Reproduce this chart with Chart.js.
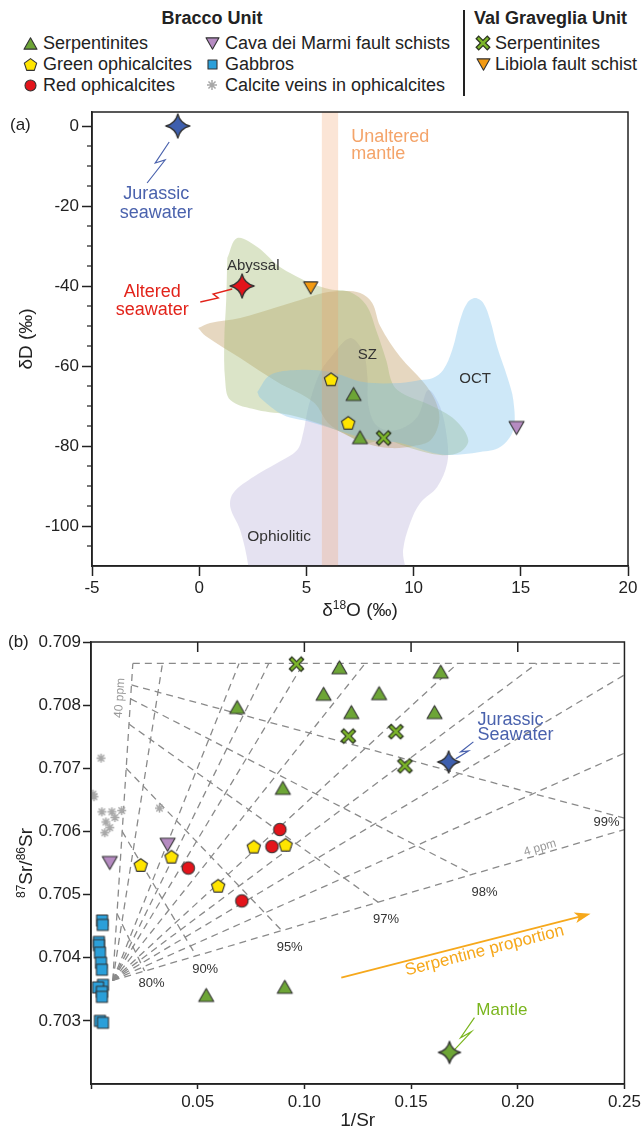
<!DOCTYPE html>
<html>
<head>
<meta charset="utf-8">
<title>Stable and Sr isotopes</title>
<script src="https://cdn.jsdelivr.net/npm/chart.js@4.4.1/dist/chart.umd.min.js"></script>
<style>
  html, body { margin: 0; padding: 0; background: #fff; }
  body { width: 644px; height: 1130px; position: relative; overflow: hidden;
         font-family: 'Liberation Sans', Arial, sans-serif; color: #222; }
  #chartA { position: absolute; left: 0; top: 96px; }
  #chartB { position: absolute; left: 0; top: 626px; }
  .lg { position: absolute; font-size: 18px; line-height: 20px; white-space: nowrap; }
  .hd { font-weight: bold; }
  .ic { position: absolute; }
  #divider { position: absolute; left: 463px; top: 10px; width: 1.5px; height: 86px; background: #222; }
</style>
</head>
<body>
<div id="legend"></div>
<div id="divider"></div>
<canvas id="chartA" width="644" height="530"></canvas>
<canvas id="chartB" width="644" height="504"></canvas>
<script>
const FONT = "'Liberation Sans', Arial, sans-serif";
Chart.defaults.font.family = FONT;
Chart.defaults.color = '#222';

// colours
const C = {
    serp: '#6da536',
    greenOph: '#ffe500',
    redOph: '#e3141b',
    cava: '#b58bc1',
    gabbro: '#2b9fd9',
    calcite: '#a8a8a8',
    vgSerp: '#7cb52a',
    libiola: '#f39a12',
    seawater: '#3e5fae',
    textBlue: '#4a62ad',
    textRed: '#e2231a',
    mantleGreen: '#7ab51d',
    mantleBand: '#f4a46a',
    arrow: '#f6a81c',
    dash: '#8a8a8a'
};

// ---------- panel (a): dD vs d18O ----------
const xTicksA = [-5, 0, 5, 10, 15, 20];
const yTicksA = [0, -20, -40, -60, -80, -100];
const serpA = [{x: 7.2, y: -67}, {x: 7.5, y: -77.8}];
const greenOphA = [{x: 6.15, y: -63.3}, {x: 6.95, y: -74.2}];
const cavaA = [{x: 14.8, y: -75.5}];
const vgSerpA = [{x: 8.6, y: -78}];
const libiolaA = [{x: 5.2, y: -40.5}];
const jurassicSwA = [{x: -1, y: 0}];
const alteredSwA = [{x: 2, y: -40}];

// literature fields (outlines)
const abyssalField = [
    {x: 1.31, y: -33}, {x: 1.77, y: -28}, {x: 2.71, y: -30.25}, {x: 3.64, y: -34.75},
    {x: 4.24, y: -36.75}, {x: 5.18, y: -39.25}, {x: 6.1, y: -40.8}, {x: 7.04, y: -41.5},
    {x: 7.79, y: -44.75}, {x: 8.3, y: -51.75}, {x: 8.72, y: -58.5}, {x: 9.05, y: -64.75},
    {x: 9.61, y: -67.25}, {x: 10.77, y: -69.75}, {x: 11.94, y: -73.5}, {x: 12.55, y: -78.5},
    {x: 12.17, y: -81.5}, {x: 11.24, y: -82.25}, {x: 9.84, y: -80.5}, {x: 8.68, y: -78.5},
    {x: 7.65, y: -79.25}, {x: 6.72, y: -76.75}, {x: 5.5, y: -74.25}, {x: 4.24, y: -72.25},
    {x: 2.71, y: -71}, {x: 1.45, y: -68.5}, {x: 1.21, y: -63.5}, {x: 1.17, y: -53.5},
    {x: 1.26, y: -43.5}, {x: 1.31, y: -33}
];
const szField = [
    {x: -0.05, y: -50.5}, {x: 0.51, y: -49.25}, {x: 1.91, y: -48}, {x: 3.64, y: -45.25},
    {x: 4.71, y: -43.5}, {x: 5.78, y: -41.75}, {x: 6.72, y: -41.25}, {x: 7.51, y: -41.75},
    {x: 8.07, y: -44.25}, {x: 8.44, y: -50}, {x: 9.38, y: -57.75}, {x: 10.45, y: -64},
    {x: 11.0, y: -68.5}, {x: 11.2, y: -73.5}, {x: 10.8, y: -78.5}, {x: 10.0, y: -80},
    {x: 8.9, y: -80.5}, {x: 7.74, y: -79.25}, {x: 6.11, y: -74.75}, {x: 5.32, y: -69},
    {x: 3.64, y: -64}, {x: 1.91, y: -58}, {x: 0.3, y: -52.5}, {x: -0.05, y: -50.5}
];
const octField = [
    {x: 2.71, y: -66.5}, {x: 3.31, y: -62.25}, {x: 4.57, y: -61}, {x: 6.11, y: -61.5},
    {x: 7.65, y: -64}, {x: 9.38, y: -64.25}, {x: 10.31, y: -63.5}, {x: 10.9, y: -63},
    {x: 11.38, y: -61}, {x: 11.8, y: -56}, {x: 12.17, y: -48.5}, {x: 12.5, y: -44.25},
    {x: 12.87, y: -43}, {x: 13.25, y: -44.25}, {x: 13.57, y: -48.5}, {x: 13.9, y: -55.25},
    {x: 14.37, y: -62.75}, {x: 14.65, y: -68.5}, {x: 14.65, y: -76}, {x: 14.04, y: -80.25},
    {x: 13.1, y: -81.5}, {x: 11.7, y: -82.25}, {x: 10.91, y: -81.75}, {x: 9.38, y: -79.25},
    {x: 7.98, y: -78.5}, {x: 6.72, y: -76.5}, {x: 5.18, y: -74}, {x: 3.92, y: -72.25},
    {x: 2.85, y: -68}, {x: 2.71, y: -66.5}
];
const ophioliticField = [
    {x: 2.29, y: -115}, {x: 2.29, y: -110}, {x: 1.91, y: -101}, {x: 1.45, y: -95.25},
    {x: 1.59, y: -91.75}, {x: 2.52, y: -87.75}, {x: 3.64, y: -84.25}, {x: 4.57, y: -81},
    {x: 4.85, y: -76.75}, {x: 5.1, y: -70}, {x: 5.6, y: -62}, {x: 6.11, y: -58},
    {x: 7.04, y: -53}, {x: 7.65, y: -56.5}, {x: 7.84, y: -62.25}, {x: 7.9, y: -70},
    {x: 8.3, y: -75}, {x: 9.2, y: -76}, {x: 10.17, y: -72.75}, {x: 10.68, y: -66},
    {x: 11.24, y: -70.25}, {x: 11.57, y: -78.5}, {x: 11.57, y: -84.25}, {x: 11.1, y: -90.25},
    {x: 10.31, y: -94.25}, {x: 9.84, y: -99.25}, {x: 9.51, y: -106}, {x: 9.51, y: -115},
    {x: 2.29, y: -115}
];
const mantleBand = [
    {x: 5.72, y: -115}, {x: 5.72, y: 5}, {x: 6.48, y: 5}, {x: 6.48, y: -115}, {x: 5.72, y: -115}
];
const jurassicBoltA = [{x: -1.40, y: -4}, {x: -2.05, y: -9.25}, {x: -1.59, y: -8.5}, {x: -2.43, y: -14.25}];
const alteredBoltA = [{x: 1.54, y: -40.75}, {x: 0.65, y: -42}, {x: 0.89, y: -43}, {x: 0.05, y: -44}];

// text: [label, x, y, size, colour, align]
const textsA = [
    ['Abyssal', 2.52, -35, 15, '#333', 'center'],
    ['SZ', 7.84, -57.25, 15, '#333', 'center'],
    ['OCT', 12.87, -63.25, 15, '#333', 'center'],
    ['Ophiolitic', 3.73, -102.75, 15.5, '#333', 'center'],
    ['Unaltered', 7.09, -2.75, 18, C.mantleBand, 'left'],
    ['mantle', 7.09, -7, 18, C.mantleBand, 'left'],
    ['Jurassic', -2.0, -17, 18, C.textBlue, 'center'],
    ['seawater', -2.0, -21.75, 18, C.textBlue, 'center'],
    ['Altered', -2.19, -41.5, 18, C.textRed, 'center'],
    ['seawater', -2.19, -46, 18, C.textRed, 'center']
];

// ---------- panel (b): 87Sr/86Sr vs 1/Sr ----------
const xTicksB = [0, 0.05, 0.10, 0.15, 0.20, 0.25];
const yTicksB = [0.703, 0.704, 0.705, 0.706, 0.707, 0.708, 0.709];
const serpB = [
    {x: 0.0685, y: 0.70797}, {x: 0.0899, y: 0.70669}, {x: 0.1090, y: 0.70818}, {x: 0.1164, y: 0.70860},
    {x: 0.1350, y: 0.70819}, {x: 0.1220, y: 0.70789}, {x: 0.1610, y: 0.70789}, {x: 0.1639, y: 0.70853},
    {x: 0.0540, y: 0.70341}, {x: 0.0908, y: 0.70354}
];
const greenOphB = [
    {x: 0.0233, y: 0.70547}, {x: 0.0377, y: 0.70560}, {x: 0.0596, y: 0.70514},
    {x: 0.0763, y: 0.70576}, {x: 0.0912, y: 0.70579}
];
const redOphB = [{x: 0.0456, y: 0.70542}, {x: 0.0707, y: 0.70490}, {x: 0.0848, y: 0.70576}, {x: 0.0885, y: 0.70603}];
const cavaB = [{x: 0.0088, y: 0.70550}, {x: 0.0359, y: 0.70579}];
const gabbroB = [
    {x: 0.0052, y: 0.70459}, {x: 0.0055, y: 0.70452}, {x: 0.0037, y: 0.70425}, {x: 0.0037, y: 0.70420},
    {x: 0.0042, y: 0.70408}, {x: 0.0047, y: 0.70392}, {x: 0.0051, y: 0.70381}, {x: 0.0056, y: 0.70357},
    {x: 0.0033, y: 0.70353}, {x: 0.0051, y: 0.70346}, {x: 0.0051, y: 0.70338}, {x: 0.0042, y: 0.70300},
    {x: 0.0056, y: 0.70297}
];
const calciteB = [
    {x: 0.0047, y: 0.70716}, {x: 0.0009, y: 0.70659}, {x: 0.0014, y: 0.70655}, {x: 0.0051, y: 0.70631},
    {x: 0.0098, y: 0.70631}, {x: 0.0144, y: 0.70633}, {x: 0.0070, y: 0.70615}, {x: 0.0112, y: 0.70622},
    {x: 0.0088, y: 0.70606}, {x: 0.0065, y: 0.70598}, {x: 0.0321, y: 0.70637}
];
const vgSerpB = [{x: 0.0963, y: 0.70865}, {x: 0.1206, y: 0.70751}, {x: 0.1429, y: 0.70758}, {x: 0.1471, y: 0.70704}];
const jurassicSwB = [{x: 0.1676, y: 0.70710}];
const mantleB = [{x: 0.1680, y: 0.70250}];

// mixing grid
const fanOrigin = {x: 0.0102, y: 0.70364};
const seawaterRatio = 0.70866;
const ppm40End = {x: 0.0196, y: 0.70866};
const ppm4End = {x: 0.25, y: 0.70603};
const rayTopX = [0.0335, 0.0694, 0.0833, 0.0996, 0.1285, 0.1718, 0.2090];
const rayEdgeY = [0.70848, 0.70724];
const pctLabels = ['80%', '90%', '95%', '97%', '98%', '99%'];
const pctStart = [
    {x: 0.01218, y: 0.7047}, {x: 0.0146, y: 0.7060}, {x: 0.01649, y: 0.7070},
    {x: 0.0178, y: 0.7077}, {x: 0.01855, y: 0.7081}, {x: 0.01896, y: 0.70832}
];
const pctEnd = [
    {x: 0.0251, y: 0.70379}, {x: 0.0493, y: 0.70403}, {x: 0.0894, y: 0.70443},
    {x: 0.1345, y: 0.70488}, {x: 0.1788, y: 0.70532}, {x: 0.25, y: 0.70621}
];
const pctLabelPos = [
    {x: 0.0284, y: 0.70360}, {x: 0.0535, y: 0.70381}, {x: 0.0931, y: 0.70416},
    {x: 0.1383, y: 0.70460}, {x: 0.1844, y: 0.70504}, {x: 0.2416, y: 0.70614}
];
const arrowB = [{x: 0.1173, y: 0.703684}, {x: 0.2323, y: 0.70468}];
const jurassicBoltB = [{x: 0.1792, y: 0.707418}, {x: 0.1732, y: 0.707259}, {x: 0.1769, y: 0.707275}, {x: 0.1709, y: 0.707149}];
const mantleBoltB = [{x: 0.1797, y: 0.703051}, {x: 0.1732, y: 0.702734}, {x: 0.1783, y: 0.702829}, {x: 0.1704, y: 0.702544}];

// ---------- symbols ----------
function symbol(kind, fill, size) {
    const pad = 3;
    const c = document.createElement('canvas');
    c.width = c.height = Math.ceil(size + pad * 2);
    const g = c.getContext('2d');
    const m = c.width / 2, r = size / 2;
    g.fillStyle = fill;
    g.strokeStyle = '#333';
    g.lineWidth = 1.1;
    g.lineJoin = 'round';
    g.beginPath();
    if (kind === 'tri' || kind === 'triDown') {
        const h = size * 0.87, s = kind === 'tri' ? 1 : -1;
        g.moveTo(m, m - s * h / 2);
        g.lineTo(m + r, m + s * h / 2);
        g.lineTo(m - r, m + s * h / 2);
        g.closePath(); g.fill(); g.stroke();
    } else if (kind === 'pent') {
        for (let i = 0; i < 5; i++) {
            const a = -Math.PI / 2 + i * 2 * Math.PI / 5;
            g.lineTo(m + r * Math.cos(a), m + r * Math.sin(a) + r * 0.1);
        }
        g.closePath(); g.fill(); g.stroke();
    } else if (kind === 'circle') {
        g.arc(m, m, r, 0, Math.PI * 2); g.fill(); g.stroke();
    } else if (kind === 'square') {
        g.rect(m - r, m - r, size, size); g.fill(); g.stroke();
    } else if (kind === 'star') {
        const k = r * 0.2;
        g.moveTo(m, m - r);
        g.quadraticCurveTo(m + k, m - k, m + r, m);
        g.quadraticCurveTo(m + k, m + k, m, m + r);
        g.quadraticCurveTo(m - k, m + k, m - r, m);
        g.quadraticCurveTo(m - k, m - k, m, m - r);
        g.closePath(); g.lineWidth = 1.3; g.fill(); g.stroke();
    } else if (kind === 'cross') {
        const q = r * 0.72;
        [[4.8, '#2a3320', q], [2.5, fill, q * 0.96]].forEach(([w, col, d]) => {
            g.beginPath();
            g.lineCap = 'square'; g.lineWidth = w; g.strokeStyle = col;
            g.moveTo(m - d, m - d); g.lineTo(m + d, m + d);
            g.moveTo(m + d, m - d); g.lineTo(m - d, m + d);
            g.stroke();
        });
    } else if (kind === 'asterisk') {
        g.strokeStyle = fill; g.lineWidth = 1.5;
        for (let i = 0; i < 4; i++) {
            const a = i * Math.PI / 4;
            g.moveTo(m - r * Math.cos(a), m - r * Math.sin(a));
            g.lineTo(m + r * Math.cos(a), m + r * Math.sin(a));
        }
        g.stroke();
    }
    return c;
}

// ---------- legend ----------
const legendEntries = [
    {label: 'Serpentinites', kind: 'tri', fill: C.serp, col: 0, row: 0, size: 13},
    {label: 'Green ophicalcites', kind: 'pent', fill: C.greenOph, col: 0, row: 1, size: 13},
    {label: 'Red ophicalcites', kind: 'circle', fill: C.redOph, col: 0, row: 2, size: 11},
    {label: 'Cava dei Marmi fault schists', kind: 'triDown', fill: C.cava, col: 1, row: 0, size: 13},
    {label: 'Gabbros', kind: 'square', fill: C.gabbro, col: 1, row: 1, size: 9},
    {label: 'Calcite veins in ophicalcites', kind: 'asterisk', fill: C.calcite, col: 1, row: 2, size: 10},
    {label: 'Serpentinites', kind: 'cross', fill: C.vgSerp, col: 2, row: 0, size: 12},
    {label: 'Libiola fault schist', kind: 'triDown', fill: C.libiola, col: 2, row: 1, size: 13}
];
const legendCols = [{sym: 30, text: 43}, {sym: 212, text: 225}, {sym: 483, text: 495}];
const legendRows = [43, 64, 85];
const legendBox = document.getElementById('legend');
function addDiv(cls, text, left, top, center) {
    const d = document.createElement('div');
    d.className = cls;
    d.textContent = text;
    d.style.left = left + 'px';
    d.style.top = top + 'px';
    if (center) d.style.transform = 'translateX(-50%)';
    legendBox.appendChild(d);
}
addDiv('lg hd', 'Bracco Unit', 212, 8, true);
addDiv('lg hd', 'Val Graveglia Unit', 474, 8, false);
legendEntries.forEach(e => {
    const cx = legendCols[e.col].sym, cy = legendRows[e.row];
    const ic = symbol(e.kind, e.fill, e.size);
    ic.className = 'ic';
    ic.style.left = (cx - ic.width / 2) + 'px';
    ic.style.top = (cy - ic.height / 2) + 'px';
    legendBox.appendChild(ic);
    addDiv('lg', e.label, legendCols[e.col].text, cy - 10, false);
});

// ---------- helpers ----------
function drawText(ctx, txt, px, py, size, color, align, rot) {
    ctx.save();
    ctx.translate(px, py);
    if (rot) ctx.rotate(rot);
    ctx.font = size + 'px ' + FONT;
    ctx.fillStyle = color;
    ctx.textAlign = align || 'center';
    ctx.textBaseline = 'middle';
    ctx.fillText(txt, 0, 0);
    ctx.restore();
}
function drawRich(ctx, parts, cx, cy, rot) {
    ctx.save();
    ctx.translate(cx, cy);
    ctx.rotate(rot || 0);
    let w = 0;
    parts.forEach(p => { ctx.font = p.size + 'px ' + FONT; p.w = ctx.measureText(p.t).width; w += p.w; });
    let x = -w / 2;
    ctx.fillStyle = '#222';
    ctx.textBaseline = 'alphabetic';
    parts.forEach(p => {
        ctx.font = p.size + 'px ' + FONT;
        ctx.fillText(p.t, x, 7 - (p.up || 0));
        x += p.w;
    });
    ctx.restore();
}
function frame(chart) {
    const {ctx, chartArea: a} = chart;
    ctx.save();
    ctx.strokeStyle = '#222';
    ctx.lineWidth = 1.5;
    ctx.strokeRect(a.left, a.top, a.right - a.left, a.bottom - a.top);
    ctx.restore();
}
function poly(data, color, order, tension) {
    return {type: 'line', data, backgroundColor: color, borderWidth: 0, pointRadius: 0,
            fill: 'shape', tension: tension, order: order};
}
function pts(data, img) {
    return {type: 'scatter', data, pointStyle: img, pointRadius: 6, order: 0};
}
function seg(data, color, width, dash) {
    return {type: 'line', data, borderColor: color, borderWidth: width, borderDash: dash || [],
            pointRadius: 0, fill: false, tension: 0, order: 1};
}
function axis(min, max, ticks, fit, tickLen, pad, labelFn) {
    return {
        type: 'linear', min, max,
        afterBuildTicks: s => { s.ticks = ticks.map(v => ({value: v})); },
        afterFit: fit,
        border: {color: '#222', width: 1.5},
        grid: {drawOnChartArea: false, drawTicks: true, tickLength: tickLen, color: '#222', tickWidth: 1.5},
        ticks: {font: {size: 17}, color: '#222', padding: pad, maxRotation: 0, autoSkip: false,
                callback: labelFn}
    };
}

// ---------- chart (a) ----------
const panelA = {
    id: 'panelA',
    afterDatasetsDraw(chart) {
        const {ctx, scales: {x, y}, chartArea: a} = chart;
        frame(chart);
        ctx.save();
        ctx.strokeStyle = '#222';
        ctx.lineWidth = 1.2;
        for (let v = -105; v < 0; v += 5) {
            if (v % 20 === 0) continue;
            const py = y.getPixelForValue(v);
            ctx.beginPath(); ctx.moveTo(a.left - 5, py); ctx.lineTo(a.left, py); ctx.stroke();
        }
        ctx.restore();
        textsA.forEach(t => drawText(ctx, t[0], x.getPixelForValue(t[1]), y.getPixelForValue(t[2]), t[3], t[4], t[5]));
        drawRich(ctx, [{t: 'δ', size: 19}, {t: '18', size: 12, up: 7}, {t: 'O (‰)', size: 19}],
                 (a.left + a.right) / 2, a.bottom + 43);
        drawRich(ctx, [{t: 'δD (‰)', size: 19}], 25, (a.top + a.bottom) / 2, -Math.PI / 2);
        drawText(ctx, '(a)', 10, 29, 17, '#222', 'left');
    }
};
new Chart(document.getElementById('chartA'), {
    type: 'scatter',
    data: {
        datasets: [
            pts(jurassicSwA, symbol('star', C.seawater, 24)),
            pts(alteredSwA, symbol('star', C.redOph, 24)),
            pts(libiolaA, symbol('triDown', C.libiola, 14)),
            pts(cavaA, symbol('triDown', C.cava, 15)),
            pts(serpA, symbol('tri', C.serp, 15)),
            pts(greenOphA, symbol('pent', C.greenOph, 14)),
            pts(vgSerpA, symbol('cross', C.vgSerp, 13)),
            seg(jurassicBoltA, C.textBlue, 1.2),
            seg(alteredBoltA, C.textRed, 1.4),
            poly(mantleBand, 'rgba(240,150,90,0.25)', 10, 0),
            poly(octField, 'rgba(120,190,235,0.36)', 11, 0.35),
            poly(abyssalField, 'rgba(160,185,110,0.38)', 12, 0.35),
            poly(szField, 'rgba(190,150,90,0.38)', 13, 0.35),
            poly(ophioliticField, 'rgba(170,160,210,0.3)', 14, 0.35)
        ]
    },
    options: {
        responsive: false,
        animation: false,
        devicePixelRatio: 1,
        events: [],
        layout: {padding: {left: 0, right: 16, top: 16, bottom: 0}},
        plugins: {legend: {display: false}, tooltip: {enabled: false}},
        scales: {
            x: axis(-5, 20, xTicksA, s => { s.height = 60; }, 10, 2, v => String(v)),
            y: axis(-110, 3.5, yTicksA, s => { s.width = 92; }, 10, 3, v => String(v))
        }
    },
    plugins: [panelA]
});

// ---------- chart (b) ----------
const gridLines = [];
gridLines.push([fanOrigin, ppm40End], [ppm40End, {x: 0.25, y: seawaterRatio}], [fanOrigin, ppm4End]);
rayTopX.forEach(v => gridLines.push([fanOrigin, {x: v, y: seawaterRatio}]));
rayEdgeY.forEach(v => gridLines.push([fanOrigin, {x: 0.25, y: v}]));
pctStart.forEach((p, i) => gridLines.push([p, pctEnd[i]]));

const panelB = {
    id: 'panelB',
    afterDatasetsDraw(chart) {
        const {ctx, scales: {x, y}, chartArea: a} = chart;
        frame(chart);
        ctx.save();
        ctx.strokeStyle = '#222';
        ctx.lineWidth = 1.5;
        xTicksB.slice(1, -1).forEach(v => {
            const px = x.getPixelForValue(v);
            ctx.beginPath(); ctx.moveTo(px, a.top); ctx.lineTo(px, a.top + 10); ctx.stroke();
        });
        // arrow head
        const p0 = {x: x.getPixelForValue(arrowB[0].x), y: y.getPixelForValue(arrowB[0].y)};
        const p1 = {x: x.getPixelForValue(arrowB[1].x), y: y.getPixelForValue(arrowB[1].y)};
        const ang = Math.atan2(p1.y - p0.y, p1.x - p0.x);
        ctx.translate(p1.x, p1.y);
        ctx.rotate(ang);
        ctx.fillStyle = C.arrow;
        ctx.beginPath(); ctx.moveTo(4, 0); ctx.lineTo(-12, -5.5); ctx.lineTo(-8, 0); ctx.lineTo(-12, 5.5); ctx.closePath(); ctx.fill();
        ctx.restore();

        const P = (d) => ({x: x.getPixelForValue(d.x), y: y.getPixelForValue(d.y)});
        pctLabels.forEach((t, i) => {
            const p = P(pctLabelPos[i]);
            drawText(ctx, t, p.x, p.y, 13, '#333', 'center');
        });
        const o = P(fanOrigin), e40 = P(ppm40End), e4 = P(ppm4End);
        const l40 = P({x: 0.0135, y: 0.708114}), l4 = P({x: 0.2104, y: 0.705741});
        drawText(ctx, '40 ppm', l40.x, l40.y, 12, '#999', 'center', Math.atan2(e40.y - o.y, e40.x - o.x));
        drawText(ctx, '4 ppm', l4.x, l4.y, 12, '#999', 'center', Math.atan2(e4.y - o.y, e4.x - o.x));
        const sp = P({x: 0.1844, y: 0.704111});
        drawText(ctx, 'Serpentine proportion', sp.x, sp.y, 17, C.arrow, 'center', ang);
        const j1 = P({x: 0.1811, y: 0.707766}), j2 = P({x: 0.1811, y: 0.707528});
        drawText(ctx, 'Jurassic', j1.x, j1.y, 18, C.textBlue, 'left');
        drawText(ctx, 'Seawater', j2.x, j2.y, 18, C.textBlue, 'left');
        const mt = P({x: 0.1806, y: 0.703161});
        drawText(ctx, 'Mantle', mt.x, mt.y, 17, C.mantleGreen, 'left');

        drawRich(ctx, [{t: '1/Sr', size: 19}], (a.left + a.right) / 2, a.bottom + 35);
        drawRich(ctx, [{t: '87', size: 12, up: 7}, {t: 'Sr/', size: 19}, {t: '86', size: 12, up: 7}, {t: 'Sr', size: 19}],
                 25, (a.top + a.bottom) / 2, -Math.PI / 2);
        drawText(ctx, '(b)', 8, 16, 17, '#222', 'left');
    }
};

new Chart(document.getElementById('chartB'), {
    type: 'scatter',
    data: {
        datasets: [
            pts(jurassicSwB, symbol('star', C.seawater, 22)),
            pts(mantleB, symbol('star', C.serp, 22)),
            pts(vgSerpB, symbol('cross', C.vgSerp, 13)),
            pts(serpB, symbol('tri', C.serp, 15)),
            pts(redOphB, symbol('circle', C.redOph, 12.5)),
            pts(greenOphB, symbol('pent', C.greenOph, 14)),
            pts(cavaB, symbol('triDown', C.cava, 15)),
            pts(gabbroB, symbol('square', C.gabbro, 11)),
            pts(calciteB, symbol('asterisk', C.calcite, 9)),
            seg(jurassicBoltB, C.textBlue, 1.2),
            seg(mantleBoltB, C.mantleGreen, 1.2),
            seg(arrowB, C.arrow, 1.8),
            ...gridLines.map(l => seg(l, C.dash, 1.3, [7, 5]))
        ]
    },
    options: {
        responsive: false,
        animation: false,
        devicePixelRatio: 1,
        events: [],
        layout: {padding: {left: 0, right: 16, top: 16, bottom: 0}},
        plugins: {legend: {display: false}, tooltip: {enabled: false}},
        scales: {
            x: axis(0, 0.25, xTicksB, s => { s.height = 46; }, 5, 3, v => (v === 0 ? '' : v.toFixed(2))),
            y: axis(0.702, 0.709, yTicksB, s => { s.width = 91; }, 8, 2, v => v.toFixed(3))
        }
    },
    plugins: [panelB]
});
</script>
</body>
</html>
